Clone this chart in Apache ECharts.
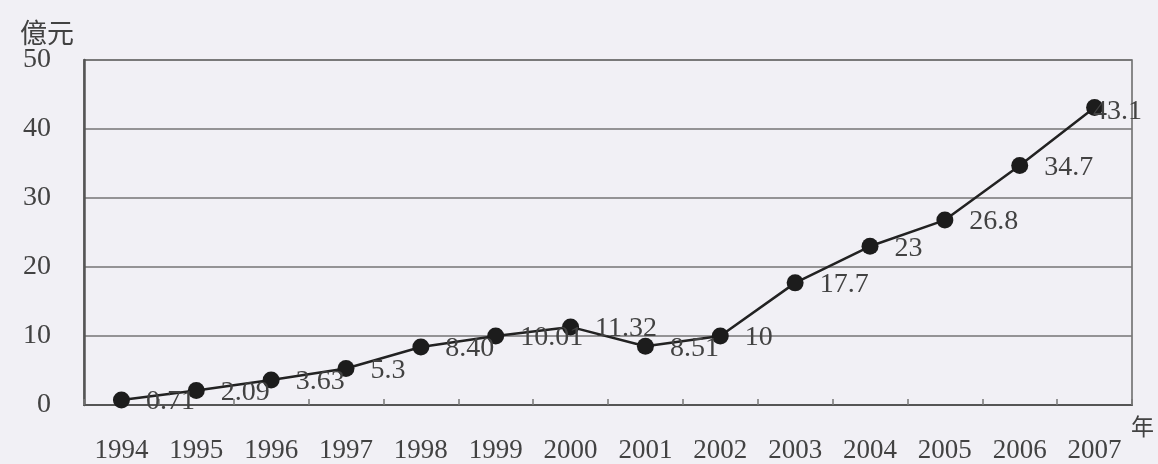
<!DOCTYPE html>
<html>
<head>
<meta charset="utf-8">
<script src="https://cdn.jsdelivr.net/npm/echarts@6/dist/echarts.min.js"></script>
<style>
html,body{margin:0;padding:0;background:#f1f0f5;}
#c{width:1158px;height:464px;}
</style>
</head>
<body>
<div id="c"></div>
<script>
var years = ['1994','1995','1996','1997','1998','1999','2000','2001','2002','2003','2004','2005','2006','2007'];
var values = [0.71, 2.09, 3.63, 5.3, 8.40, 10.01, 11.32, 8.51, 10, 17.7, 23, 26.8, 34.7, 43.1];
var valueLabels = ['0.71','2.09','3.63','5.3','8.40','10.01','11.32','8.51','10','17.7','23','26.8','34.7','43.1'];
var yUnit = '億元';
var xUnit = '年';

var textColor = '#424242';
var serif = '"Liberation Serif", "DejaVu Serif", serif';

var seriesData = values.map(function (v, i) {
  var d = { value: v };
  if (i === values.length - 1) {
    d.label = { offset: [-26, 4] };
  }
  return d;
});

var chart = echarts.init(document.getElementById('c'), null, { renderer: 'canvas' });
chart.setOption({
  backgroundColor: '#f1f0f5',
  animation: false,
  grid: {
    left: 84, right: 26, top: 60, bottom: 59,
    show: true, borderColor: '#666', borderWidth: 1.5, backgroundColor: 'transparent'
  },
  xAxis: {
    type: 'category',
    data: years,
    boundaryGap: true,
    name: xUnit,
    nameLocation: 'end',
    nameGap: -1,
    nameTextStyle: { fontFamily: '"Noto Sans CJK TC", sans-serif', fontSize: 23, color: textColor, align: 'left', verticalAlign: 'top', padding: [10, 0, 0, 0] },
    axisLine: { show: true, lineStyle: { color: '#555', width: 2 } },
    axisTick: { show: true, inside: true, length: 6, alignWithLabel: false, lineStyle: { color: '#777', width: 1.5 } },
    axisLabel: { fontFamily: serif, fontSize: 27, color: textColor, margin: 32 }
  },
  yAxis: {
    type: 'value',
    min: 0, max: 50, interval: 10,
    name: yUnit,
    nameLocation: 'end',
    nameGap: 14,
    nameTextStyle: { fontFamily: '"Noto Sans CJK TC", sans-serif', fontSize: 27, color: textColor, align: 'right', verticalAlign: 'bottom', padding: [0, 10, 0, 0] },
    axisLine: { show: true, lineStyle: { color: '#555', width: 2.5 } },
    axisTick: { show: false },
    axisLabel: { fontFamily: serif, fontSize: 28, color: textColor, margin: 33 },
    splitLine: { show: true, lineStyle: { color: '#747474', width: 1.5 } }
  },
  series: [{
    type: 'line',
    data: seriesData,
    symbol: 'circle',
    symbolSize: 17,
    itemStyle: { color: '#1c1c1c' },
    lineStyle: { color: '#222', width: 2.5 },
    label: {
      show: true,
      position: 'right',
      distance: 16,
      offset: [0, 2],
      fontFamily: serif,
      fontSize: 28,
      color: textColor,
      formatter: function (p) { return valueLabels[p.dataIndex]; }
    }
  }]
});
</script>
</body>
</html>
